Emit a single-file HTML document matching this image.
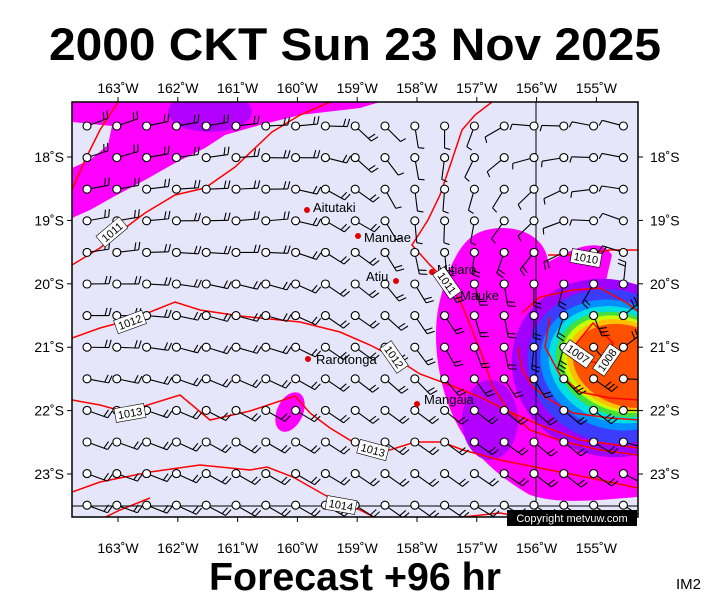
<!DOCTYPE html>
<html><head><meta charset="utf-8"><style>
html,body{margin:0;padding:0;background:#fff;}
svg{display:block;font-family:"Liberation Sans",sans-serif;}
</style></head><body>
<svg id="s" width="711" height="600" viewBox="0 0 711 600" xmlns="http://www.w3.org/2000/svg">
<defs><clipPath id="c"><rect x="72" y="102" width="566" height="415"/></clipPath></defs>
<rect width="711" height="600" fill="#fff"/>
<text x="355" y="60" text-anchor="middle" font-size="45" font-weight="bold" textLength="612" lengthAdjust="spacingAndGlyphs">2000 CKT Sun 23 Nov 2025</text>
<g clip-path="url(#c)">
<rect x="72" y="102" width="566" height="415" fill="#e6e6fa"/>
<path d="M72,102 L380,102 L360,108 L300,115 L260,125 L225,135 L205,148 L175,163 L145,180 L115,196 L90,210 L72,218 Z" fill="#ff00ff"/>
<path d="M72,122 L112,126 L108,145 L90,160 L72,168 Z" fill="#e6e6fa"/>
<ellipse cx="210" cy="112" rx="42" ry="20" fill="#b400ff"/>
<ellipse cx="290" cy="412" rx="13" ry="21" transform="rotate(25 290 412)" fill="#ff00ff"/>
<path d="M480,232 C505,222 545,230 548,262 C570,250 600,235 612,255 L605,285 C625,292 638,300 638,300 L638,497 C600,500 560,505 530,495 C500,478 470,452 455,420 C440,390 430,340 440,300 C448,268 460,240 480,232 Z" fill="#ff00ff"/>
<ellipse cx="490" cy="420" rx="28" ry="40" fill="#b400ff"/>
<g transform="rotate(20 615 365)">
<ellipse cx="610" cy="370" rx="98" ry="88" fill="#a000ff"/>
<ellipse cx="613" cy="367" rx="86" ry="76" fill="#3c3cff"/>
<ellipse cx="615" cy="365" rx="76" ry="64" fill="#0090ff"/>
<ellipse cx="617" cy="364" rx="70" ry="57" fill="#00e0e0"/>
<ellipse cx="619" cy="363" rx="65" ry="51" fill="#40e040"/>
<ellipse cx="621" cy="362" rx="61" ry="47" fill="#c8ff00"/>
<ellipse cx="623" cy="362" rx="58" ry="44" fill="#ffc000"/>
<ellipse cx="626" cy="362" rx="55" ry="40" fill="#ff5000"/>
</g>
<g fill="none" stroke="#ff0000" stroke-width="1.5">
<polyline points="72,190 85,160 100,130 118,102"/>
<polyline points="72,265 100,248 125,228 145,213 175,195 205,188 235,167 272,132 300,115 330,102"/>
<polyline points="492,102 475,115 462,130 452,160 440,195 428,220 412,245 430,265 450,285 462,305 472,330 482,355 492,385 508,410 530,430 565,442 600,450 638,455"/>
<polyline points="72,338 100,328 130,320 175,302 200,310 240,316 300,322 340,332 370,345 395,358 420,374 450,385 480,397 510,412 540,425 580,440 638,448"/>
<polyline points="72,400 100,405 125,412 180,395 210,420 250,411 295,396 310,413 330,428 353,442 390,450 415,442 442,442 463,450 500,460 530,466 560,472 600,480 638,488"/>
<polyline points="72,492 100,482 150,472 200,465 250,470 267,467 293,477 330,498 360,510 380,520"/>
<polyline points="85,527 120,510 150,498"/>
<polyline points="440,519 463,517 500,513 540,520"/>
<polyline points="548,255 580,255 610,250 638,250"/>
<polyline points="522,313 540,297 573,290 600,288 627,303 640,313"/>
<polyline points="518,347 522,370 533,387 550,400 573,413 610,418 640,420"/>
<polyline points="550,317 545,347 560,375 580,392 610,398 640,400"/>
<polygon points="593,323 613,343 605,365 585,360 575,345"/>
</g>
<line x1="536" y1="102" x2="536" y2="517" stroke="#000" stroke-width="1"/>
<line x1="72" y1="506" x2="638" y2="506" stroke="#000" stroke-width="1"/>
<g id="barbs" stroke="#000" stroke-width="1.1" fill="none"></g>
<g font-size="13" fill="#000">
<circle cx="307" cy="210" r="3" fill="#e00000"/><text x="313" y="212">Aitutaki</text>
<circle cx="358" cy="236" r="3" fill="#e00000"/><text x="364" y="242">Manuae</text>
<circle cx="396" cy="281" r="3" fill="#e00000"/><text x="366" y="281">Atiu</text>
<circle cx="432" cy="272" r="3" fill="#e00000"/><text x="437" y="274">Mitiaro</text>
<circle cx="453" cy="292" r="3" fill="#e00000"/><text x="460" y="300">Mauke</text>
<circle cx="308" cy="359" r="3" fill="#e00000"/><text x="316" y="364">Rarotonga</text>
<circle cx="417" cy="404" r="3" fill="#e00000"/><text x="424" y="404">Mangaia</text>
</g>
<g font-size="11" text-anchor="middle">
<g transform="translate(112,232) rotate(-40)"><rect x="-15" y="-7" width="30" height="14" fill="#fff" stroke="#000" stroke-width=".6"/><text y="4">1011</text></g>
<g transform="translate(130,322) rotate(-20)"><rect x="-15" y="-7" width="30" height="14" fill="#fff" stroke="#000" stroke-width=".6"/><text y="4">1012</text></g>
<g transform="translate(130,413) rotate(-10)"><rect x="-15" y="-7" width="30" height="14" fill="#fff" stroke="#000" stroke-width=".6"/><text y="4">1013</text></g>
<g transform="translate(373,450) rotate(15)"><rect x="-15" y="-7" width="30" height="14" fill="#fff" stroke="#000" stroke-width=".6"/><text y="4">1013</text></g>
<g transform="translate(341,505) rotate(10)"><rect x="-15" y="-7" width="30" height="14" fill="#fff" stroke="#000" stroke-width=".6"/><text y="4">1014</text></g>
<g transform="translate(394,357) rotate(55)"><rect x="-15" y="-7" width="30" height="14" fill="#fff" stroke="#000" stroke-width=".6"/><text y="4">1012</text></g>
<g transform="translate(447,283) rotate(55)"><rect x="-15" y="-7" width="30" height="14" fill="#fff" stroke="#000" stroke-width=".6"/><text y="4">1011</text></g>
<g transform="translate(586,258) rotate(10)"><rect x="-15" y="-7" width="30" height="14" fill="#fff" stroke="#000" stroke-width=".6"/><text y="4">1010</text></g>
<g transform="translate(578,354) rotate(35)"><rect x="-15" y="-7" width="30" height="14" fill="#fff" stroke="#000" stroke-width=".6"/><text y="4">1007</text></g>
<g transform="translate(607,360) rotate(-55)"><rect x="-15" y="-7" width="30" height="14" fill="#fff" stroke="#000" stroke-width=".6"/><text y="4">1008</text></g>
</g>
</g>
<rect x="72" y="102" width="566" height="415" fill="none" stroke="#000" stroke-width="1.5"/>
<rect x="507" y="510" width="130" height="16" fill="#000"/>
<text x="572" y="522" font-size="11" fill="#fff" text-anchor="middle">Copyright metvuw.com</text>
<g id="ticks" font-size="14" fill="#000"></g>
<text x="355" y="590" text-anchor="middle" font-size="39" font-weight="bold" textLength="292" lengthAdjust="spacingAndGlyphs">Forecast +96 hr</text>
<text x="676" y="589" font-size="15">IM2</text>
</svg>
<script>
var NS="http://www.w3.org/2000/svg";
function el(t,a,p){var e=document.createElementNS(NS,t);for(var k in a)e.setAttribute(k,a[k]);p.appendChild(e);return e;}
var tk=document.getElementById('ticks');
var lons=[163,162,161,160,159,158,157,156,155];
for(var i=0;i<9;i++){var x=118+i*59.8;
 el('line',{x1:x,y1:97,x2:x,y2:102,stroke:'#000'},tk);el('line',{x1:x,y1:517,x2:x,y2:522,stroke:'#000'},tk);
 var t=el('text',{x:x,y:93,'text-anchor':'middle'},tk);t.textContent=lons[i]+'˚W';
 t=el('text',{x:x,y:553,'text-anchor':'middle'},tk);t.textContent=lons[i]+'˚W';}
var lats=[18,19,20,21,22,23];
for(var j=0;j<6;j++){var y=157+j*63.4;
 el('line',{x1:67,y1:y,x2:72,y2:y,stroke:'#000'},tk);el('line',{x1:638,y1:y,x2:643,y2:y,stroke:'#000'},tk);
 var t=el('text',{x:64,y:y+5,'text-anchor':'end'},tk);t.textContent=lats[j]+'˚S';
 t=el('text',{x:650,y:y+5},tk);t.textContent=lats[j]+'˚S';}
var cp=[[90,126,-20],[200,126,-10],[300,126,-5],[380,126,45],[440,126,90],[470,126,110],[500,126,150],[540,126,185],[620,126,195],
[90,220,-10],[250,220,-5],[350,220,30],[420,220,85],[470,220,100],[510,220,125],[560,230,160],[620,230,200],
[90,320,0],[250,320,15],[350,320,35],[440,300,55],[490,300,75],[530,300,90],
[90,440,20],[250,440,30],[400,440,35],[480,440,35],[540,440,40],[90,505,20],[300,505,30],[500,505,30],
[560,330,110],[580,400,40],[630,400,0],[630,330,-40]];
function ang(x,y){var sx=0,sy=0;for(var i=0;i<cp.length;i++){var dx=x-cp[i][0],dy=y-cp[i][1];var w=1/Math.pow(dx*dx+dy*dy+1,1.5);var a=cp[i][2]*Math.PI/180;sx+=w*Math.cos(a);sy+=w*Math.sin(a);}return Math.atan2(sy,sx);}
var g=document.getElementById('barbs');
for(var r=0;r<13;r++)for(var c=0;c<19;c++){
 var x=87+c*29.8,y=126+r*31.6,a=ang(x,y);
 var ca=Math.cos(a),sa=Math.sin(a);
 var L=22,ex=x+ca*L,ey=y+sa*L;
 el('line',{x1:x+ca*4,y1:y+sa*4,x2:ex,y2:ey},g);
 var n=2; if(x>370&&y<250)n=1; var dc=Math.hypot(x-610,y-370); if(dc<60)n=3;
 var fa=a-75*Math.PI/180;
 for(var k=0;k<n;k++){var bx=ex-ca*4*k,by=ey-sa*4*k;var fl=(n==1)?6:8;
  el('line',{x1:bx,y1:by,x2:bx+Math.cos(fa)*fl,y2:by+Math.sin(fa)*fl},g);}
 el('circle',{cx:x,cy:y,r:4,fill:'#fff'},g);
}
</script>
</body></html>
